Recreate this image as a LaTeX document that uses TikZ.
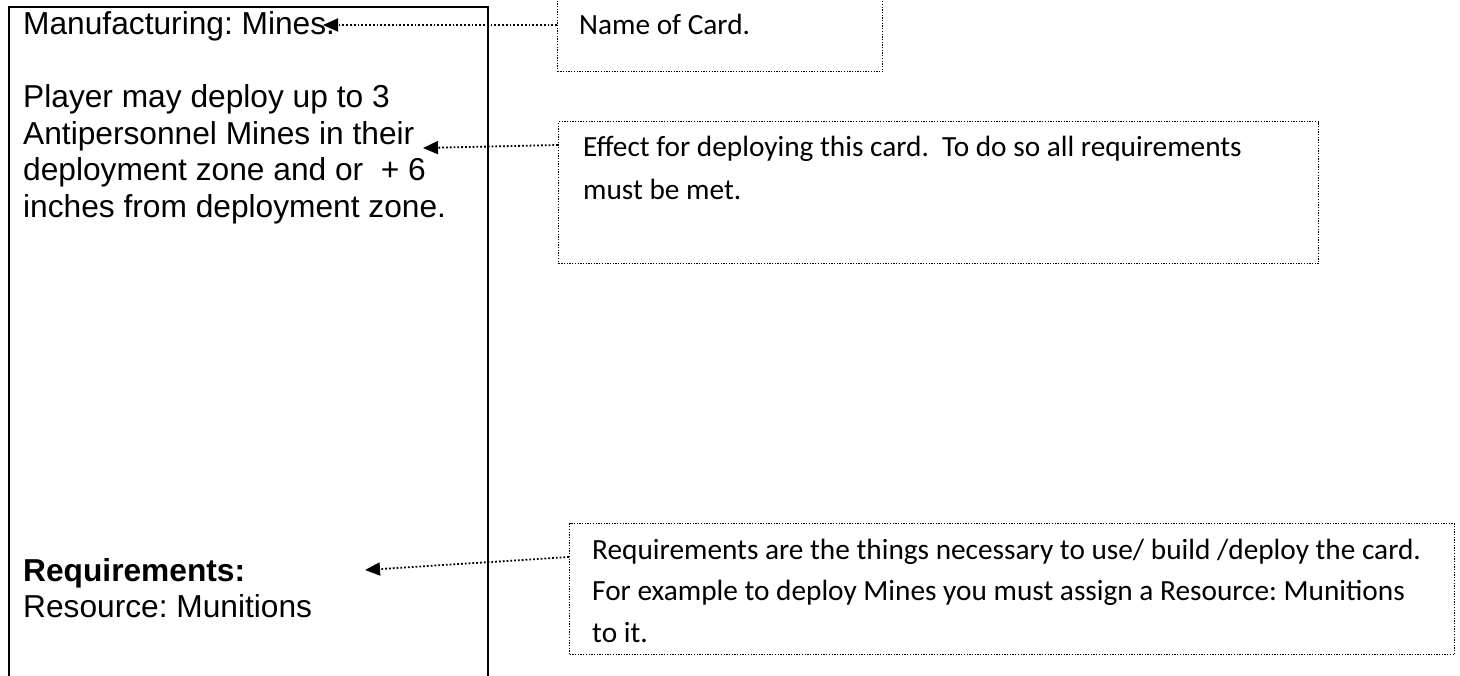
\documentclass[tikz,border=0pt]{standalone}
\usepackage{fontspec}
\usetikzlibrary{arrows.meta,calc}
\newfontfamily\cardfont{Liberation Sans}
\newfontfamily\notefont{Carlito}
\frenchspacing
\begin{document}
\begin{tikzpicture}[x=1pt,y=-1pt,
  cardframe/.style={draw, line width=2pt, anchor=north west, inner sep=0pt},
  notebox/.style={draw, line width=1.3pt, dash pattern=on 1.3pt off 1.4pt, anchor=north west, inner sep=0pt},
  pointer/.style={line width=1.8pt, dash pattern=on 1.8pt off 2pt, -{Triangle[length=15pt,width=13pt]}},
  cardtxt/.style={anchor=base west, inner sep=0pt, font=\frenchspacing\cardfont\fontsize{31.7}{36.5}\selectfont},
  cardbold/.style={anchor=base west, inner sep=0pt, font=\frenchspacing\cardfont\bfseries\fontsize{31.7}{36.5}\selectfont},
  notetxt/.style={anchor=base west, inner sep=0pt, font=\frenchspacing\notefont\fontsize{29.3}{42}\selectfont}]
\useasboundingbox (0,0) rectangle (1460,676);
\clip (0,0) rectangle (1460,676);
% card
\node[cardframe, minimum width=479pt, minimum height=720pt] (card) at (8,6) {};
\node[cardtxt] (title) at (23,35) {Manufacturing: Mines.};
\node[cardtxt] (eff1) at (23,108) {Player may deploy up to 3};
\node[cardtxt] (eff2) at (23,144.5) {Antipersonnel Mines in their};
\node[cardtxt] (eff3) at (23,181) {deployment zone and or~~+ 6};
\node[cardtxt] (eff4) at (23,217.5) {inches from deployment zone.};
\node[cardbold] (req1) at (23,581) {Requirements:};
\node[cardtxt] (req2) at (23,617) {Resource: Munitions};
% callout boxes
\node[notebox, minimum width=325pt, minimum height=75pt] (namebox) at (557,-4) {};
\node[notetxt] (nametxt) at (579,35) {Name of Card.};
\node[notebox, minimum width=760pt, minimum height=142pt] (effbox) at (558,121) {};
\node[notetxt] (efftxt1) at (583,157) {Effect for deploying this card.~~To do so all requirements};
\node[notetxt] (efftxt2) at (583,200) {must be met.};
\node[notebox, minimum width=885pt, minimum height=131pt] (reqbox) at (569,523) {};
\node[notetxt] (reqtxt1) at (592,559) {Requirements are the things necessary to use/ build /deploy the card.};
\node[notetxt] (reqtxt2) at (592,600) {For example to deploy Mines you must assign a Resource: Munitions};
\node[notetxt] (reqtxt3) at (592,642) {to it.};
% pointers
\coordinate (tipA) at (323,25);
\coordinate (tipB) at (423,148);
\coordinate (tipC) at (365,570);
\draw[pointer] (namebox.west |- tipA) -- (tipA);
\draw[pointer] ($(effbox.north west)+(0,24)$) -- (tipB);
\draw[pointer] ($(reqbox.north west)+(0,34)$) -- (tipC);
\end{tikzpicture}
\end{document}
